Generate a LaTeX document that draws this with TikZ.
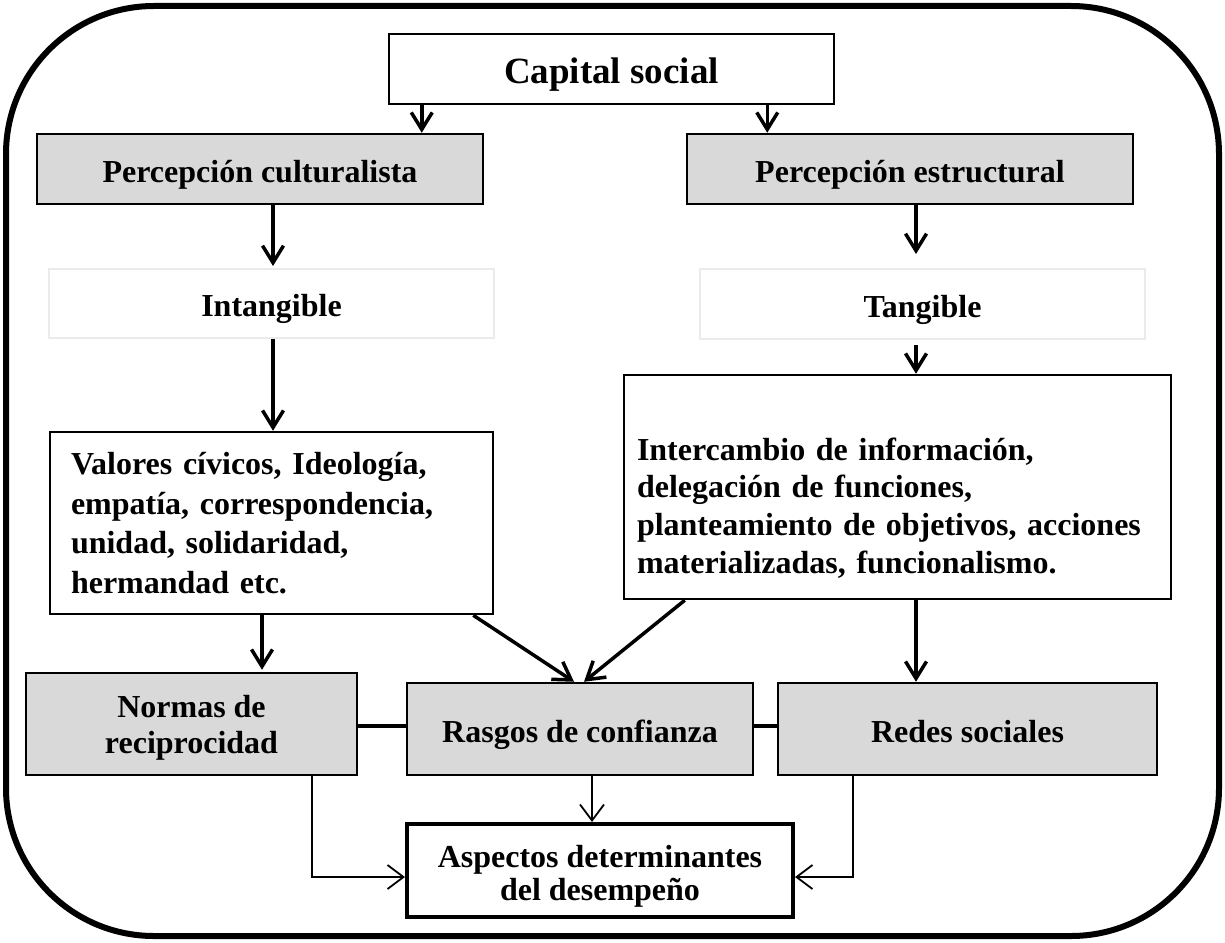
\documentclass[tikz,border=0pt]{standalone}
\usepackage{fontspec}
\setmainfont{Liberation Serif}
\usetikzlibrary{arrows.meta,calc}
\definecolor{boxgray}{HTML}{D9D9D9}
\definecolor{faint}{HTML}{EBEBEB}
\begin{document}
\begin{tikzpicture}[x=1pt,y=-1pt,
  box/.style={draw=black,line width=2.5pt,inner sep=0pt,align=center,
    font=\bfseries\fontsize{32}{38}\selectfont},
  one/.style={text height=26pt,text depth=0pt},
  gbox/.style={box,fill=boxgray},
  fbox/.style={box,draw=faint,line width=2pt},
  arr/.style={line width=3.5pt,-{Straight Barb[length=17pt,width=21pt]}},
  tarr/.style={line width=1.8pt,-{Straight Barb[length=16pt,width=24pt]}},
  link/.style={line width=3.5pt}]
\useasboundingbox (0,0) rectangle (1225,942);
\draw[line width=6pt,rounded corners=148pt] (6,6) rectangle (1219,936);

\node[box,minimum width=445pt,minimum height=70pt,text height=28pt,text depth=0pt,font=\bfseries\fontsize{37}{40}\selectfont] (cap) at (611.5,69) {Capital social};
\node[gbox,one,minimum width=446pt,minimum height=70pt] (cult) at (260,169) {Percepción culturalista};
\node[gbox,one,minimum width=446pt,minimum height=70pt] (estr) at (910,169) {Percepción estructural};
\node[fbox,one,minimum width=445pt,minimum height=69pt] (intang) at (271.5,303.5) {Intangible};
\node[fbox,one,minimum width=445pt,minimum height=70pt] (tang) at (922.5,304) {Tangible};
\node[box,minimum height=182pt,align=left,text width=401pt,inner xsep=21pt,
  font=\bfseries\fontsize{32}{39.5}\selectfont] (val) at (271.5,523)
  {Valores cívicos, Ideología,\\empatía, correspondencia,\\unidad, solidaridad,\\hermandad etc.};
\node[box,minimum height=224pt,align=left,text width=521pt,inner xsep=13pt,
  font=\bfseries\fontsize{32}{37.7}\selectfont] (right) at (897.5,487)
  {\strut\\Intercambio de información,\\delegación de funciones,\\planteamiento de objetivos, acciones\\materializadas, funcionalismo.};
\node[gbox,minimum width=331pt,minimum height=102pt,text height=58pt,text depth=0pt,font=\bfseries\fontsize{32}{36}\selectfont] (normas) at (191.5,724) {Normas de\\reciprocidad};
\node[gbox,one,minimum width=346pt,minimum height=92pt] (rasgos) at (580,729) {Rasgos de confianza};
\node[gbox,one,minimum width=379pt,minimum height=92pt] (redes) at (967.5,729) {Redes sociales};
\node[box,line width=4pt,minimum width=386pt,minimum height=93pt,text height=59pt,text depth=0pt,font=\bfseries\fontsize{32}{33}\selectfont] (asp) at (600,870.5) {Aspectos determinantes\\del desempeño};

\draw[arr] ([xshift=34pt]cap.south west) -- ([xshift=34pt]cap.south west |- cult.north);
\draw[arr] ([xshift=-68pt]cap.south east) -- ([xshift=-68pt]cap.south east |- estr.north);
\draw[arr,shorten >=2pt] ([xshift=13pt]cult.south) -- ([xshift=13pt]cult.south |- intang.north);
\draw[arr,shorten >=14pt] ([xshift=6pt]estr.south) -- ([xshift=6pt]estr.south |- tang.north);
\draw[arr] ([xshift=1.5pt]intang.south) -- ([xshift=1.5pt]intang.south |- val.north);
\draw[arr,shorten <=5pt] ([xshift=-6.5pt]tang.south) -- ([xshift=-6.5pt]tang.south |- right.north);
\draw[arr,shorten >=2pt] ([xshift=-9.5pt]val.south) -- ([xshift=-9.5pt]val.south |- normas.north);
\draw[arr] ([xshift=18.5pt]right.south) -- ([xshift=18.5pt]right.south |- redes.north);
\draw[arr] ([xshift=-21pt]val.south east) -- ([xshift=-6pt]rasgos.north);
\draw[arr] ([xshift=62pt]right.south west) -- ([xshift=4pt]rasgos.north);
\draw[link] ([yshift=3pt]rasgos.west) -- ([yshift=3pt]rasgos.west -| normas.east);
\draw[link] ([yshift=3pt]rasgos.east) -- ([yshift=3pt]rasgos.east -| redes.west);
\draw[tarr] ([xshift=12pt]rasgos.south) -- ([xshift=12pt]rasgos.south |- asp.north);
\draw[tarr] ([xshift=-46pt]normas.south east) |- ([yshift=-6.5pt]asp.west);
\draw[tarr] ([xshift=76pt]redes.south west) |- ([yshift=-6.5pt]asp.east);
\end{tikzpicture}
\end{document}
